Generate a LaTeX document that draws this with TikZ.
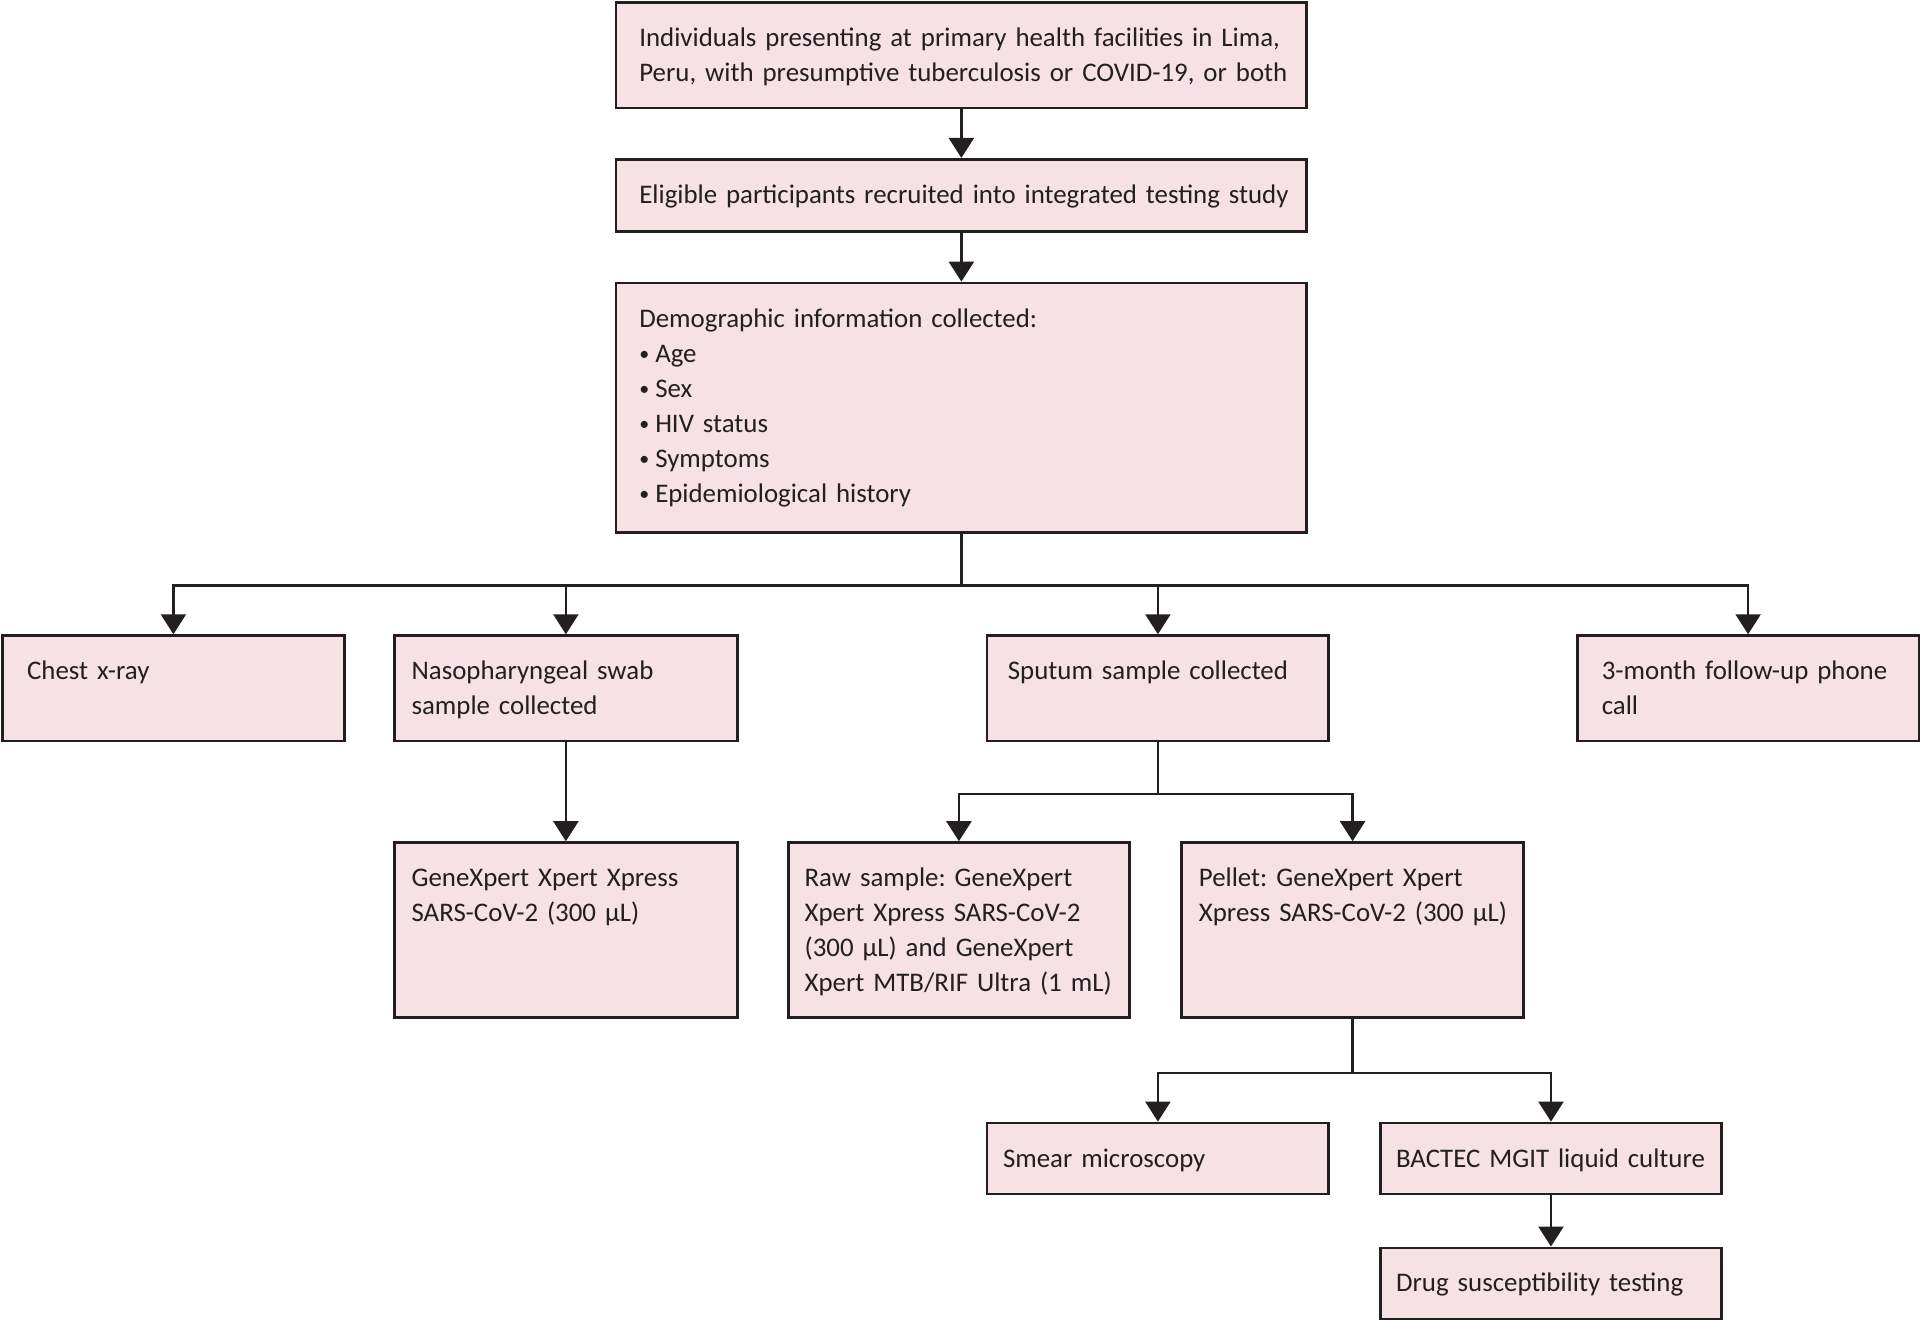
\documentclass[tikz,border=0pt]{standalone}
\usepackage{fontspec}
\setmainfont{Carlito}
\usepackage{xcolor}
\usepackage{tikz}
\usetikzlibrary{positioning,calc,arrows.meta}

\definecolor{boxfill}{RGB}{246,226,228}
\definecolor{boxline}{RGB}{35,31,32}
\newlength{\unitpx}
\setlength{\unitpx}{0.49pt}
% small list bullet
\newcommand{\itm}{\makebox[13\unitpx][l]{\raisebox{0.15ex}{\fontsize{8}{8}\selectfont•}}}

\tikzset{
  box/.style={draw=boxline, fill=boxfill, line width=1.1pt, anchor=north west,
    align=left, inner ysep=0pt, inner xsep=14\unitpx, text height=36\unitpx,
    text=boxline, font=\fontsize{10.75}{14}\selectfont\frenchspacing},
  link/.style={draw=boxline, line width=0.9pt},
  arr/.style={link, -{Triangle[width=10pt,length=8pt]}}
}

\begin{document}
\begin{tikzpicture}[x=0.49pt, y=-0.49pt]
    \useasboundingbox (0,0) rectangle (1568,1078);

    % Top chain
    \node[box, inner xsep=19\unitpx, text width=526\unitpx, text depth=50\unitpx] (present) at (502,1)
        {\mbox{Individuals presenting at primary health facilities in Lima,}\\
         \mbox{Peru, with presumptive tuberculosis or COVID-19, or both}};
    \node[box, inner xsep=19\unitpx, text width=526\unitpx, text depth=23\unitpx] (eligible) at (502,129)
        {\mbox{Eligible participants recruited into integrated testing study}};
    \node[box, inner xsep=19\unitpx, text width=526\unitpx, text depth=168\unitpx] (demo) at (502,230)
        {Demographic information collected:\\
         \itm Age\\ \itm Sex\\ \itm HIV status\\ \itm Symptoms\\ \itm Epidemiological history};

    % Second row
    \node[box, inner xsep=20\unitpx, text width=239\unitpx, text depth=50\unitpx] (chest) at (1,518)
        {Chest x-ray};
    \node[box, text width=252\unitpx, text depth=50\unitpx] (naso) at (321,518)
        {Nasopharyngeal swab\\ sample collected};
    \node[box, inner xsep=17\unitpx, text width=245\unitpx, text depth=50\unitpx] (sputum) at (805,518)
        {Sputum sample collected};
    \node[box, inner xsep=20\unitpx, text width=239\unitpx, text depth=50\unitpx] (phone) at (1287,518)
        {\mbox{3-month follow-up phone}\\ call};

    % Third row
    \node[box, text width=252\unitpx, text depth=107\unitpx] (naso-test) at (321,687)
        {GeneXpert Xpert Xpress\\ SARS-CoV-2 (300 µL)};
    \node[box, inner xsep=13\unitpx, text width=252\unitpx, text depth=107\unitpx] (raw) at (643,687)
        {Raw sample: GeneXpert\\ Xpert Xpress SARS-CoV-2\\ (300 µL) and GeneXpert\\
         \mbox{Xpert MTB/RIF Ultra (1 mL)}};
    \node[box, text width=251\unitpx, text depth=107\unitpx] (pellet) at (964,687)
        {Pellet: GeneXpert Xpert\\ \mbox{Xpress SARS-CoV-2 (300 µL)}};

    % Culture row
    \node[box, inner xsep=13\unitpx, text width=253\unitpx, text depth=22\unitpx] (smear) at (805,916)
        {Smear microscopy};
    \node[box, inner xsep=13\unitpx, text width=253\unitpx, text depth=22\unitpx] (bactec) at (1126,916)
        {\mbox{BACTEC MGIT liquid culture}};
    \node[box, inner xsep=13\unitpx, text width=253\unitpx, text depth=22\unitpx] (dst) at (1126,1018)
        {Drug susceptibility testing};

    % Splits
    \coordinate (demosplit) at ($(demo.south)+(0,42)$);
    \coordinate (sputumsplit) at ($(sputum.south)+(0,42)$);
    \coordinate (pelletsplit) at ($(pellet.south)+(0,44)$);

    % Connectors
    \draw[arr] (present) -- (eligible);
    \draw[arr] (eligible) -- (demo);
    \draw[link] (demo.south) -- (demosplit);
    \foreach \n in {chest,naso,sputum,phone}
        \draw[arr] (demosplit) -| (\n.north);
    \draw[arr] (naso) -- (naso-test);
    \draw[link] (sputum.south) -- (sputumsplit);
    \draw[arr] (sputumsplit) -| (raw.north);
    \draw[arr] (sputumsplit) -| (pellet.north);
    \draw[link] (pellet.south) -- (pelletsplit);
    \draw[arr] (pelletsplit) -| (smear.north);
    \draw[arr] (pelletsplit) -| (bactec.north);
    \draw[arr] (bactec) -- (dst);

\end{tikzpicture}
\end{document}
